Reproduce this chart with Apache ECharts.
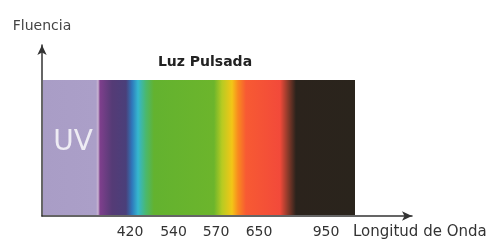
<!DOCTYPE html>
<html>
<head>
<meta charset="utf-8">
<script src="https://cdn.jsdelivr.net/npm/echarts@6/dist/echarts.min.js"></script>
<style>
  html, body { margin: 0; padding: 0; background: #fff; }
  #chart { width: 490px; height: 242px; }
</style>
</head>
<body>
<div id="chart"></div>
<script>
// posiciones esquematicas sobre el eje x (unidades arbitrarias)
var tickPositions = [88, 131.5, 174, 217, 284]
var tickLabels = ['420', '540', '570', '650', '950']
// banda del espectro
var spectrumRange = [1, 313]
var spectrumHeight = 79.5
// paradas de color del espectro
var stopPositions = [1, 54, 56, 58, 70, 84, 90, 96, 104, 112, 172, 180, 190, 196, 204, 238, 246, 254, 313]
var stopColors = ['#a99dc6', '#ab9fc8', '#c9b3d2', '#7e3f8c', '#553b76', '#4a3f7a', '#2f78bb', '#35b7cf', '#4bb86c', '#63b22f', '#6cb52c', '#b7cb22', '#f3c617', '#f98a1f', '#f75a33', '#f24a3a', '#8a3a2a', '#2b231c', '#2a241c']
var uvLabel = 'UV'
var uvPoint = [31, 43]

var chart = echarts.init(document.getElementById('chart'))

var option = {
  animation: false,
  title: {
    text: 'Luz Pulsada',
    left: 200,
    top: 50,
    textAlign: 'center',
    textStyle: { fontFamily: 'DejaVu Sans', fontSize: 14, fontWeight: 'bold', color: '#222' },
  },
  grid: { left: 42, right: 78, top: 45, bottom: 26 },
  xAxis: {
    type: 'value',
    min: 0,
    max: 370,
    splitLine: { show: false },
    axisTick: { show: false },
    axisLine: {
      onZero: false,
      symbol: ['none', 'arrow'],
      symbolSize: [7, 10],
      lineStyle: { color: '#333', width: 1.5 },
    },
    axisLabel: {
      customValues: tickPositions,
      formatter: function (v) {
        var i = tickPositions.indexOf(v)
        return i >= 0 ? tickLabels[i] : ''
      },
      color: '#333',
      fontFamily: 'DejaVu Sans',
      fontSize: 14,
      margin: 9,
    },
  },
  yAxis: {
    type: 'value',
    min: 0,
    max: 100,
    name: 'Fluencia',
    nameGap: 12,
    nameTextStyle: { color: '#444', fontFamily: 'DejaVu Sans', fontSize: 14 },
    splitLine: { show: false },
    axisTick: { show: false },
    axisLabel: { show: false },
    axisLine: {
      symbol: ['none', 'arrow'],
      symbolSize: [7, 10],
      lineStyle: { color: '#333', width: 1.5 },
    },
  },
  graphic: [
    {
      type: 'text',
      left: 353,
      top: 225,
      style: { text: 'Longitud de Onda', fill: '#333', font: '15px "DejaVu Sans"' },
    },
  ],
  series: [
    {
      type: 'custom',
      data: [[spectrumRange[0], spectrumRange[1], spectrumHeight]],
      z: 1,
      renderItem: function (params, api) {
        var p0 = api.coord([api.value(0), api.value(2)])
        var p1 = api.coord([api.value(1), 0])
        var span = spectrumRange[1] - spectrumRange[0]
        var stops = stopPositions.map(function (p, i) {
          return { offset: (p - spectrumRange[0]) / span, color: stopColors[i] }
        })
        return {
          type: 'rect',
          shape: { x: p0[0], y: p0[1], width: p1[0] - p0[0], height: p1[1] - p0[1] - 1 },
          style: { fill: new echarts.graphic.LinearGradient(0, 0, 1, 0, stops) },
        }
      },
    },
    {
      type: 'scatter',
      data: [uvPoint],
      symbolSize: 0,
      z: 3,
      label: {
        show: true,
        position: 'inside',
        formatter: uvLabel,
        color: '#fff',
        fontFamily: 'DejaVu Sans',
        fontSize: 28,
      },
    },
  ],
}

chart.setOption(option)
</script>
</body>
</html>
